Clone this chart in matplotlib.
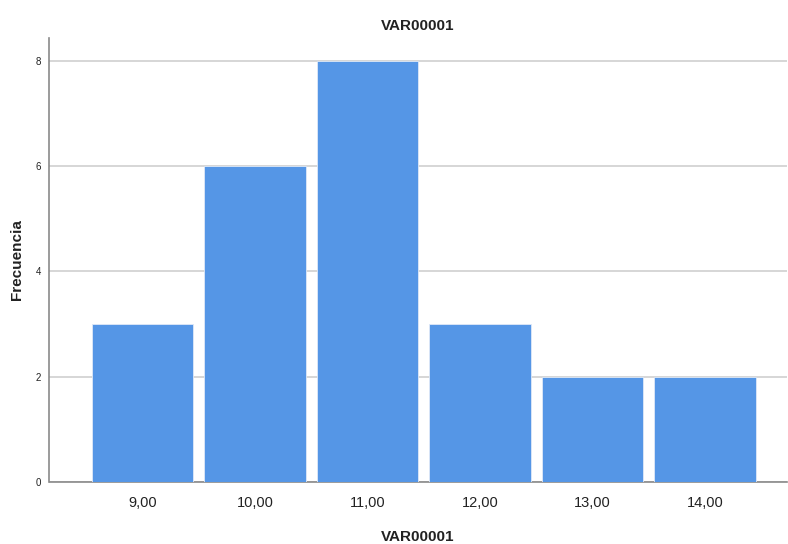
import matplotlib
matplotlib.use("Agg")
import matplotlib.pyplot as plt

categories = [9, 10, 11, 12, 13, 14]
tick_labels = ["9,00", "10,00", "11,00", "12,00", "13,00", "14,00"]
frequencies = [3, 6, 8, 3, 2, 2]
y_ticks = [0, 2, 4, 6, 8]

plt.rcParams['font.family'] = ['Liberation Sans', 'DejaVu Sans']

fig = plt.figure(figsize=(7.88, 5.44), dpi=100)
ax = fig.add_axes([49.5/788, 62/544, (787-49.5)/788, (482-38)/544])

ax.bar(categories, frequencies, width=0.9, color='#5596e6', edgecolor='#dfe9f7', linewidth=0.6, zorder=3)

ax.set_xlim(8.173, 14.73)
ax.set_ylim(0, 8.43)
ax.set_yticks(y_ticks)
ax.set_yticklabels([str(v) for v in y_ticks], fontsize=7, color='#222222')
ax.set_xticks(categories)
ax.set_xticklabels(tick_labels, fontsize=10.5, color='#222222')
ax.tick_params(axis='both', length=0, pad=6)
ax.tick_params(axis='x', pad=10)

ax.yaxis.grid(True, color='#d0d0d0', linewidth=1.2, zorder=0)
ax.set_axisbelow(True)
for s in ['top', 'right']:
    ax.spines[s].set_visible(False)
for s in ['left', 'bottom']:
    ax.spines[s].set_color('#8a8a8a')
    ax.spines[s].set_linewidth(1.2)

fig.text(418/788, 1 - 26/544, "VAR00001", ha='center', va='center', fontsize=11, fontweight='bold', color='#222222')
fig.text(418/788, 1 - 537/544, "VAR00001", ha='center', va='center', fontsize=11, fontweight='bold', color='#222222')
fig.text(17/788, 1 - 260/544, "Frecuencia", ha='center', va='center', rotation=90, fontsize=11, fontweight='bold', color='#222222')

fig.savefig("out.png", dpi=100)
